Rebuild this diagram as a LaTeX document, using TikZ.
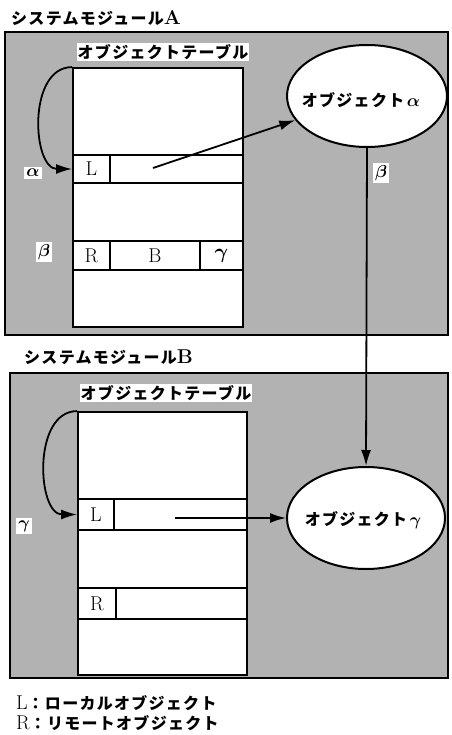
\documentclass[tikz,border=0pt]{standalone}
\usepackage{fontspec}
\usepackage{bm}
\newfontfamily\cjk{Noto Sans CJK JP}[LetterSpace=8]
\usetikzlibrary{shapes.geometric,arrows.meta}
\begin{document}
\begin{tikzpicture}[x=1pt,y=-1pt,
  jp/.style={font=\cjk\bfseries\fontsize{16}{18}\selectfont, inner sep=1pt},
  module/.style={draw, line width=2.8pt, fill=black!30, inner sep=0pt},
  cell/.style={draw, line width=1.8pt, fill=white, inner sep=0pt, font=\fontsize{20}{22}\selectfont},
  obj/.style={ellipse, draw, line width=2pt, fill=white, inner sep=0pt},
  lbl/.style={fill=white, inner sep=2pt, font=\fontsize{19}{20}\selectfont},
  arr/.style={line width=1.8pt, -{Latex[length=16pt,width=10pt]}}
]
\useasboundingbox[fill=white] (0,0) rectangle (451,735);
% titles
\node[jp, anchor=west] (tA) at (10,18) {システムモジュール{\rmfamily\bfseries\fontsize{20}{20}\selectfont A}};
\node[jp, anchor=west] (tB) at (23,357) {システムモジュール{\rmfamily\fontsize{20}{20}\selectfont B}};
% modules
\node[module, minimum width=443pt, minimum height=303pt] (modA) at (226.5,183.5) {};
\node[module, minimum width=438pt, minimum height=305pt] (modB) at (229,525.5) {};
% table A
\node[cell, minimum width=170pt, minimum height=259pt] (tabA) at (158,197.5) {};
\node[cell, minimum width=170pt, minimum height=28pt] (rowLA) at (158,169) {};
\node[cell, minimum width=37pt, minimum height=28pt] (cellLA) at (91.5,169) {L};
\node[cell, minimum width=170pt, minimum height=29pt] (rowRA) at (158,255.5) {};
\node[cell, minimum width=37pt, minimum height=29pt] (cellRA) at (91.5,255.5) {R};
\node[cell, minimum width=90pt, minimum height=29pt] (cellBA) at (155,255.5) {B};
\node[cell, minimum width=43pt, minimum height=29pt] (cellGA) at (221.5,255.5) {$\bm{\gamma}$};
\node[jp, fill=white] (ttA) at (163,52) {オブジェクトテーブル};
% table B
\node[cell, minimum width=169pt, minimum height=263pt] (tabB) at (162.5,543.5) {};
\node[cell, minimum width=169pt, minimum height=31pt] (rowLB) at (162.5,514.5) {};
\node[cell, minimum width=36pt, minimum height=31pt] (cellLB) at (96,514.5) {L};
\node[cell, minimum width=169pt, minimum height=31pt] (rowRB) at (162.5,603.5) {};
\node[cell, minimum width=38pt, minimum height=31pt] (cellRB) at (97,603.5) {R};
\node[jp, fill=white] (ttB) at (166,393) {オブジェクトテーブル};
% objects
\node[obj, minimum width=160pt, minimum height=102pt] (eA) at (367,96) {};
\node[jp] (eAt) at (361,100) {オブジェクト\,{\fontsize{18}{18}\selectfont$\bm{\alpha}$}};
\node[obj, minimum width=158pt, minimum height=102pt] (eB) at (366,518) {};
\node[jp] (eBt) at (363,520) {オブジェクト\,{\fontsize{18}{18}\selectfont$\bm{\gamma}$}};
% labels
\node[lbl] (la) at (33,173) {$\bm{\alpha}$};
\node[lbl] (lb1) at (381,173) {$\bm{\beta}$};
\node[lbl] (lb2) at (44,252) {$\bm{\beta}$};
\node[lbl] (lg) at (24,526) {$\bm{\gamma}$};
% connectors
\coordinate (sA) at (153,168);
\coordinate (sB) at (175,518);
\draw[arr] (sA) -- (eA);
\draw[arr] (sB) -- (eB.west);
\draw[arr] (eA.south) -- (eB.north);
\draw[arr] (tabA.north west) .. controls +(-45,0) and +(-40,0) .. (cellLA.west);
\draw[arr] (tabB.north west) .. controls +(-45,0) and +(-40,0) .. (cellLB.west);
% legend
\node[jp, anchor=west] (lgL) at (15,703) {{\rmfamily\mdseries\fontsize{20}{20}\selectfont L}：ローカルオブジェクト};
\node[jp, anchor=west] (lgR) at (15,723) {{\rmfamily\mdseries\fontsize{20}{20}\selectfont R}：リモートオブジェクト};
\end{tikzpicture}
\end{document}
